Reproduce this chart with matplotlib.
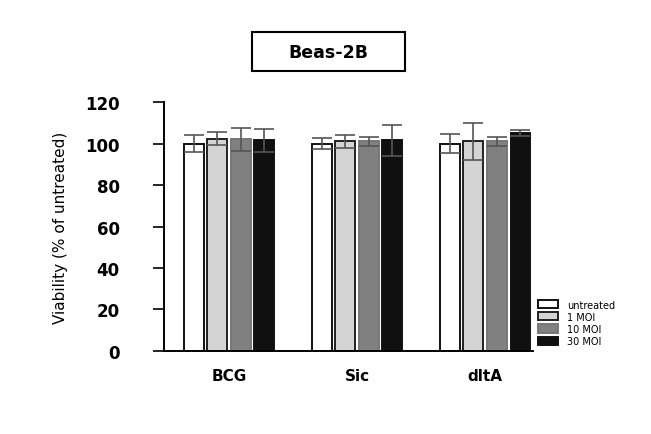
import numpy as np
import matplotlib.pyplot as plt
from matplotlib.patches import Rectangle

# =============================================================================
# Data
# =============================================================================
groups = ['BCG', 'Sic', 'dltA']
treatments = ['untreated', '1 MOI', '10 MOI', '30 MOI']
viability = {
    'untreated': [100.0, 100.0, 100.0],
    '1 MOI':     [102.4, 101.0, 101.0],
    '10 MOI':    [102.0, 101.0, 101.0],
    '30 MOI':    [101.5, 101.5, 105.0],
}
errors = {
    'untreated': [4.0, 2.5, 4.5],
    '1 MOI':     [3.0, 3.0, 9.0],
    '10 MOI':    [5.5, 2.0, 2.0],
    '30 MOI':    [5.5, 7.5, 1.5],
}
colors = ['white', '#d4d4d4', '#808080', '#101010']
edges = ['#111111', '#222222', '#777777', '#101010']
yticks = [0, 20, 40, 60, 80, 100, 120]

# =============================================================================
# Plot
# =============================================================================
fig = plt.figure(figsize=(6.51, 4.35), dpi=100)
ax = fig.add_axes([0.252, 0.191, 0.567, 0.572])

x = np.arange(len(groups))
width = 0.156
step = 0.184
for i, t in enumerate(treatments):
    pos = x + (i - 1.5) * step
    ax.bar(pos, viability[t], width, color=colors[i], edgecolor=edges[i],
           linewidth=1.4, label=t, zorder=2)
    ax.errorbar(pos, viability[t], yerr=errors[t], fmt='none', ecolor='#555555',
                elinewidth=1.2, capsize=7, capthick=1.2, zorder=3)

ax.set_xlim(-0.508, 2.375)
ax.set_ylim(0, 120)
ax.set_yticks(yticks)
ax.set_yticklabels([str(v) for v in yticks], fontsize=12, fontweight='bold')
ax.set_xticks(x)
ax.set_xticklabels(groups, fontsize=11, fontweight='bold')
ax.tick_params(axis='y', length=8, width=1.2, pad=24)
ax.tick_params(axis='x', length=0, pad=12)
ax.spines['top'].set_visible(False)
ax.spines['right'].set_visible(False)
ax.spines['left'].set_linewidth(1.4)
ax.spines['bottom'].set_linewidth(1.4)
ax.set_ylabel('Viability (% of untreated)', fontsize=11, labelpad=12)

fig.legend(loc='upper left', bbox_to_anchor=(0.82, 0.318), fontsize=7,
           frameon=False, handlelength=2.1, handleheight=0.9,
           labelspacing=0.22, handletextpad=0.9, borderaxespad=0)

# title box
fig.patches.append(Rectangle((252 / 651, 1 - 72 / 435), 153 / 651, 39 / 435,
                             transform=fig.transFigure, fill=False,
                             edgecolor='black', linewidth=1.5))
fig.text(328 / 651, 1 - 53 / 435, 'Beas-2B', ha='center', va='center',
         fontsize=12.5, fontweight='bold')

plt.savefig('out.png', dpi=100)
